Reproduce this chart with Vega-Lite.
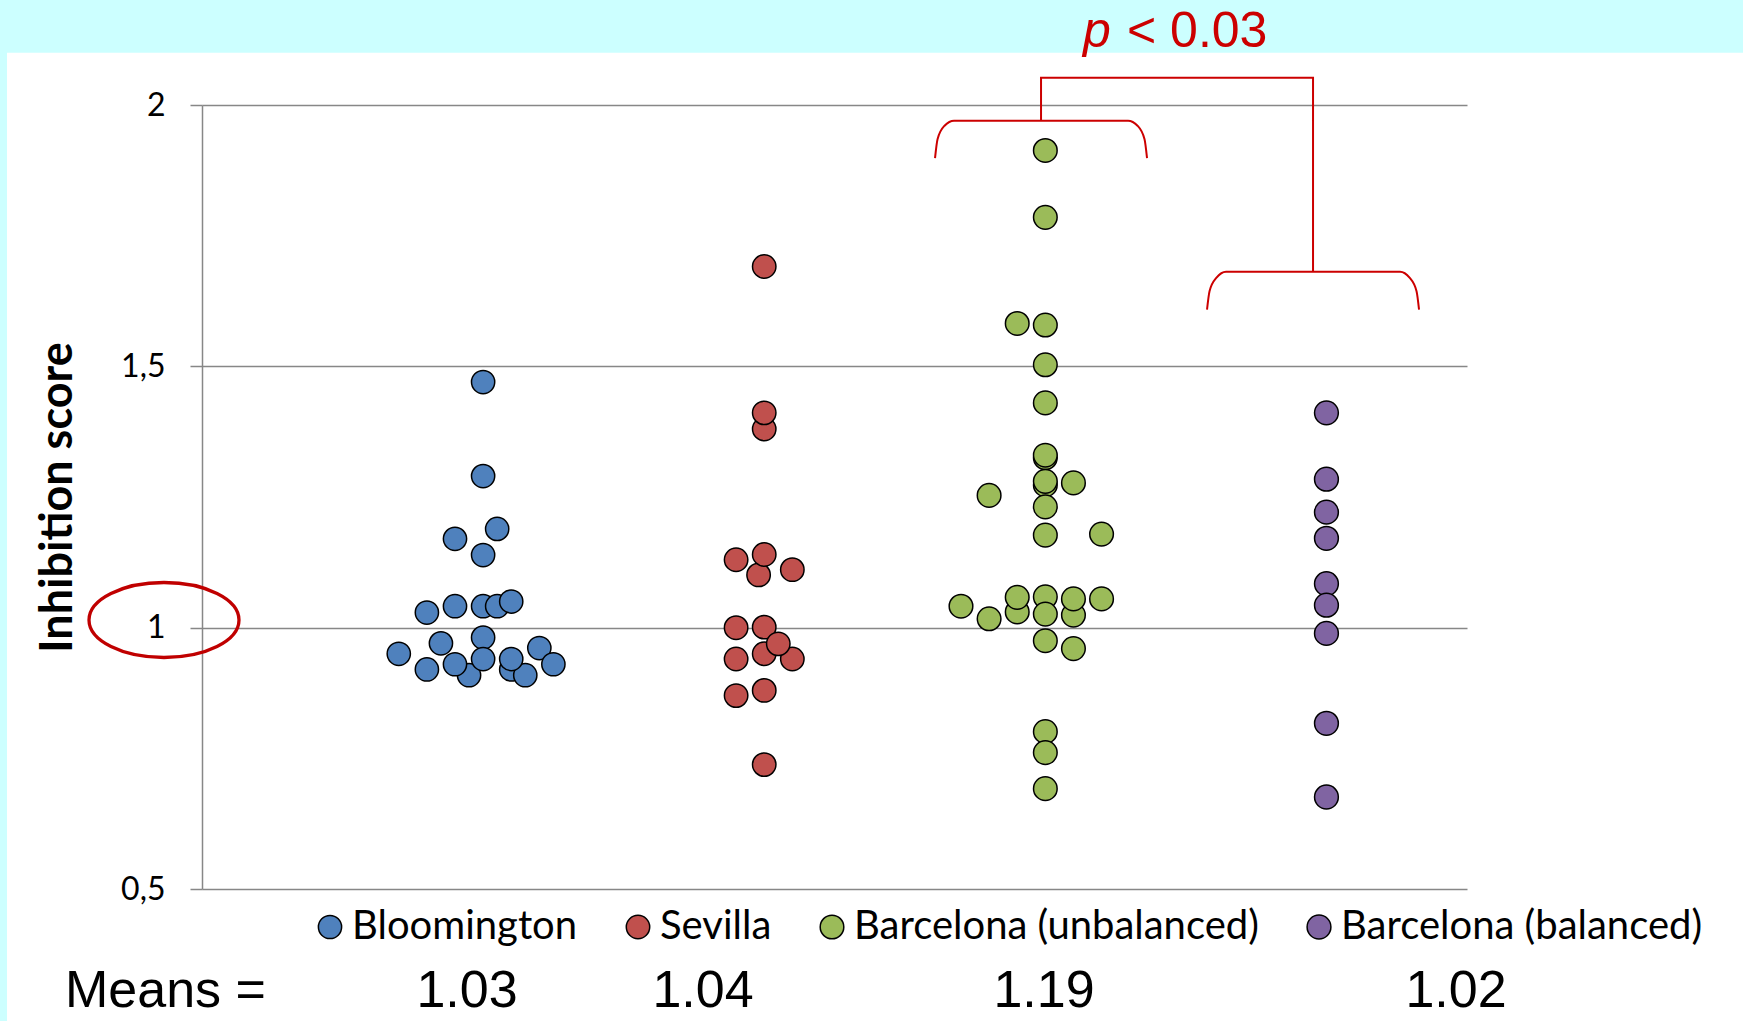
{
  "$schema": "https://vega.github.io/schema/vega-lite/v6.json",
  "width": 1265,
  "height": 784,
  "autosize": {"type": "none"},
  "padding": {"left": 202, "top": 105, "right": 276, "bottom": 132},
  "background": "white",
  "config": {"view": {"stroke": null}, "font": "Lato"},
  "datasets": {
    "points": [
      {"group": "Bloomington", "x": 1.00, "score": 1.470},
      {"group": "Bloomington", "x": 1.00, "score": 1.290},
      {"group": "Bloomington", "x": 0.90, "score": 1.170},
      {"group": "Bloomington", "x": 1.05, "score": 1.189},
      {"group": "Bloomington", "x": 1.00, "score": 1.139},
      {"group": "Bloomington", "x": 0.80, "score": 1.029},
      {"group": "Bloomington", "x": 0.90, "score": 1.041},
      {"group": "Bloomington", "x": 1.00, "score": 1.041},
      {"group": "Bloomington", "x": 1.05, "score": 1.041},
      {"group": "Bloomington", "x": 1.10, "score": 1.050},
      {"group": "Bloomington", "x": 1.00, "score": 0.981},
      {"group": "Bloomington", "x": 0.85, "score": 0.970},
      {"group": "Bloomington", "x": 0.70, "score": 0.950},
      {"group": "Bloomington", "x": 1.20, "score": 0.961},
      {"group": "Bloomington", "x": 0.80, "score": 0.920},
      {"group": "Bloomington", "x": 0.95, "score": 0.909},
      {"group": "Bloomington", "x": 0.90, "score": 0.930},
      {"group": "Bloomington", "x": 1.00, "score": 0.940},
      {"group": "Bloomington", "x": 1.10, "score": 0.920},
      {"group": "Bloomington", "x": 1.15, "score": 0.909},
      {"group": "Bloomington", "x": 1.10, "score": 0.940},
      {"group": "Bloomington", "x": 1.25, "score": 0.930},
      {"group": "Sevilla", "x": 2.00, "score": 1.691},
      {"group": "Sevilla", "x": 2.00, "score": 1.380},
      {"group": "Sevilla", "x": 2.00, "score": 1.411},
      {"group": "Sevilla", "x": 1.90, "score": 1.130},
      {"group": "Sevilla", "x": 1.98, "score": 1.101},
      {"group": "Sevilla", "x": 2.00, "score": 1.140},
      {"group": "Sevilla", "x": 2.10, "score": 1.111},
      {"group": "Sevilla", "x": 1.90, "score": 0.940},
      {"group": "Sevilla", "x": 2.00, "score": 0.950},
      {"group": "Sevilla", "x": 2.10, "score": 0.940},
      {"group": "Sevilla", "x": 1.90, "score": 1.000},
      {"group": "Sevilla", "x": 2.00, "score": 1.001},
      {"group": "Sevilla", "x": 2.05, "score": 0.969},
      {"group": "Sevilla", "x": 1.90, "score": 0.870},
      {"group": "Sevilla", "x": 2.00, "score": 0.880},
      {"group": "Sevilla", "x": 2.00, "score": 0.738},
      {"group": "Barcelona (unbalanced)", "x": 3.00, "score": 1.913},
      {"group": "Barcelona (unbalanced)", "x": 3.00, "score": 1.785},
      {"group": "Barcelona (unbalanced)", "x": 2.90, "score": 1.582},
      {"group": "Barcelona (unbalanced)", "x": 3.00, "score": 1.579},
      {"group": "Barcelona (unbalanced)", "x": 3.00, "score": 1.503},
      {"group": "Barcelona (unbalanced)", "x": 3.00, "score": 1.430},
      {"group": "Barcelona (unbalanced)", "x": 3.00, "score": 1.325},
      {"group": "Barcelona (unbalanced)", "x": 3.00, "score": 1.330},
      {"group": "Barcelona (unbalanced)", "x": 3.00, "score": 1.273},
      {"group": "Barcelona (unbalanced)", "x": 3.00, "score": 1.280},
      {"group": "Barcelona (unbalanced)", "x": 3.10, "score": 1.277},
      {"group": "Barcelona (unbalanced)", "x": 2.80, "score": 1.253},
      {"group": "Barcelona (unbalanced)", "x": 3.00, "score": 1.231},
      {"group": "Barcelona (unbalanced)", "x": 3.00, "score": 1.177},
      {"group": "Barcelona (unbalanced)", "x": 3.20, "score": 1.179},
      {"group": "Barcelona (unbalanced)", "x": 2.70, "score": 1.041},
      {"group": "Barcelona (unbalanced)", "x": 2.80, "score": 1.017},
      {"group": "Barcelona (unbalanced)", "x": 2.90, "score": 1.030},
      {"group": "Barcelona (unbalanced)", "x": 2.90, "score": 1.058},
      {"group": "Barcelona (unbalanced)", "x": 3.00, "score": 1.059},
      {"group": "Barcelona (unbalanced)", "x": 3.00, "score": 1.026},
      {"group": "Barcelona (unbalanced)", "x": 3.10, "score": 1.024},
      {"group": "Barcelona (unbalanced)", "x": 3.10, "score": 1.055},
      {"group": "Barcelona (unbalanced)", "x": 3.20, "score": 1.055},
      {"group": "Barcelona (unbalanced)", "x": 3.00, "score": 0.975},
      {"group": "Barcelona (unbalanced)", "x": 3.10, "score": 0.960},
      {"group": "Barcelona (unbalanced)", "x": 3.00, "score": 0.801},
      {"group": "Barcelona (unbalanced)", "x": 3.00, "score": 0.761},
      {"group": "Barcelona (unbalanced)", "x": 3.00, "score": 0.692},
      {"group": "Barcelona (balanced)", "x": 4.00, "score": 1.411},
      {"group": "Barcelona (balanced)", "x": 4.00, "score": 1.284},
      {"group": "Barcelona (balanced)", "x": 4.00, "score": 1.221},
      {"group": "Barcelona (balanced)", "x": 4.00, "score": 1.171},
      {"group": "Barcelona (balanced)", "x": 4.00, "score": 1.084},
      {"group": "Barcelona (balanced)", "x": 4.00, "score": 1.043},
      {"group": "Barcelona (balanced)", "x": 4.00, "score": 0.989},
      {"group": "Barcelona (balanced)", "x": 4.00, "score": 0.817},
      {"group": "Barcelona (balanced)", "x": 4.00, "score": 0.676}
    ],
    "bands": [
      {"x": -0.7186, "x2": 5.482, "y": 2.201, "y2": 2.1001},
      {"x": -0.7186, "x2": -0.6937, "y": 2.201, "y2": 0.2475}
    ],
    "connector": [
      {"i": 1, "x": 2.9847, "y": 1.970},
      {"i": 2, "x": 2.9847, "y": 2.0523},
      {"i": 3, "x": 3.9523, "y": 2.0523},
      {"i": 4, "x": 3.9523, "y": 1.6806}
    ],
    "braces": [
      {"id": "left", "x": 2.6076, "y": 1.8982},
      {"id": "left", "x": 2.6165, "y": 1.9346},
      {"id": "left", "x": 2.6414, "y": 1.9604},
      {"id": "left", "x": 2.6752, "y": 1.9700},
      {"id": "left", "x": 3.2942, "y": 1.9700},
      {"id": "left", "x": 3.3280, "y": 1.9604},
      {"id": "left", "x": 3.3529, "y": 1.9346},
      {"id": "left", "x": 3.3618, "y": 1.8982},
      {"id": "right", "x": 3.5752, "y": 1.6084},
      {"id": "right", "x": 3.5841, "y": 1.6438},
      {"id": "right", "x": 3.6090, "y": 1.6697},
      {"id": "right", "x": 3.6428, "y": 1.6811},
      {"id": "right", "x": 4.2618, "y": 1.6811},
      {"id": "right", "x": 4.2956, "y": 1.6697},
      {"id": "right", "x": 4.3205, "y": 1.6438},
      {"id": "right", "x": 4.3294, "y": 1.6084}
    ],
    "means": [
      {"label": "1.03", "x": 0.9427, "y": 0.2743},
      {"label": "1.04", "x": 1.7823, "y": 0.2743},
      {"label": "1.19", "x": 2.9954, "y": 0.2743},
      {"label": "1.02", "x": 4.461, "y": 0.2743}
    ]
  },
  "encoding": {
    "x": {"field": "x", "type": "quantitative", "scale": {"domain": [0, 4.5], "nice": false, "zero": false}, "axis": null},
    "y": {
      "field": "y", "type": "quantitative",
      "scale": {"domain": [0.5, 2], "nice": false, "zero": false},
      "axis": {
        "values": [0.5, 1, 1.5, 2], "format": ".1~f", "labelExpr": "replace(datum.label, '.', ',')",
        "title": "Inhibition score", "grid": true, "gridColor": "#878787", "gridWidth": 1.5,
        "domainColor": "#878787", "domainWidth": 1.5, "tickColor": "#878787", "tickWidth": 1.5, "tickSize": 12,
        "labelFont": "Lato", "labelFontSize": 32, "labelColor": "#000000", "labelPadding": 25,
        "titleFont": "Lato", "titleFontSize": 45, "titleFontWeight": "bold", "titleColor": "#000000",
        "titleAngle": -90, "titleX": -145, "titleY": 392, "titleAlign": "center", "titleBaseline": "middle"
      }
    }
  },
  "layer": [
    {
      "data": {"name": "points"},
      "mark": {"type": "point", "filled": true, "shape": "circle", "stroke": "black", "strokeWidth": 1.5, "opacity": 1},
      "encoding": {
        "y": {
          "field": "score", "type": "quantitative",
          "scale": {"domain": [0.5, 2], "nice": false, "zero": false},
          "axis": {
            "values": [0.5, 1, 1.5, 2], "format": ".1~f", "labelExpr": "replace(datum.label, '.', ',')",
            "title": "Inhibition score", "grid": true, "gridColor": "#878787", "gridWidth": 1.5,
            "domainColor": "#878787", "domainWidth": 1.5, "tickColor": "#878787", "tickWidth": 1.5, "tickSize": 12,
            "labelFont": "Lato", "labelFontSize": 32, "labelColor": "#000000", "labelPadding": 25,
            "titleFont": "Lato", "titleFontSize": 45, "titleFontWeight": "bold", "titleColor": "#000000",
            "titleAngle": -90, "titleX": -145, "titleY": 392, "titleAlign": "center", "titleBaseline": "middle"
          }
        },
        "color": {
          "field": "group", "type": "nominal",
          "scale": {"domain": ["Bloomington", "Sevilla", "Barcelona (unbalanced)", "Barcelona (balanced)"], "range": ["#4F81BD", "#C0504D", "#9BBB59", "#8064A2"]},
          "legend": {
            "title": null, "orient": "none", "legendX": 108, "legendY": 802, "direction": "horizontal",
            "columns": 4, "columnPadding": 40, "labelOffset": 2, "symbolType": "circle", "symbolSize": 420,
            "symbolStrokeColor": "black", "symbolStrokeWidth": 1.5, "symbolOpacity": 1,
            "labelFont": "Lato", "labelFontSize": 40, "labelColor": "#000000", "labelLimit": 1000
          }
        },
        "size": {
          "field": "group", "type": "nominal",
          "scale": {"domain": ["Bloomington", "Sevilla", "Barcelona (unbalanced)", "Barcelona (balanced)"], "range": [540, 566, 420, 420]},
          "legend": null
        }
      }
    },
    {
      "data": {"name": "bands"},
      "mark": {"type": "rect", "color": "#CCFFFF"},
      "encoding": {
        "x2": {"field": "x2"},
        "y2": {"field": "y2"}
      }
    },
    {
      "data": {"name": "connector"},
      "mark": {"type": "line", "color": "#CC0000", "strokeWidth": 2},
      "encoding": {
        "order": {"field": "i", "type": "quantitative"}
      }
    },
    {
      "data": {"name": "braces"},
      "mark": {"type": "line", "color": "#CC0000", "strokeWidth": 2, "interpolate": "monotone"},
      "encoding": {
        "detail": {"field": "id", "type": "nominal"}
      }
    },
    {
      "data": {"values": [{"x": -0.1352, "y": 1.0147}]},
      "mark": {"type": "point", "filled": false, "stroke": "#C00000", "strokeWidth": 3.3, "opacity": 1, "size": 22500, "shape": "M -1 0 A 1 0.5 0 1 1 1 0 A 1 0.5 0 1 1 -1 0 Z"},
      "encoding": {}
    },
    {
      "data": {"values": [{"label": "p", "x": 3.134, "y": 2.1110}]},
      "mark": {"type": "text", "font": "Liberation Sans", "fontSize": 50, "fontStyle": "italic", "color": "#CC0000", "align": "left", "baseline": "alphabetic"},
      "encoding": {"text": {"field": "label"}}
    },
    {
      "data": {"values": [{"label": "< 0.03", "x": 3.2906, "y": 2.1110}]},
      "mark": {"type": "text", "font": "Liberation Sans", "fontSize": 50, "color": "#CC0000", "align": "left", "baseline": "alphabetic"},
      "encoding": {"text": {"field": "label"}}
    },
    {
      "data": {"values": [{"label": "Means =", "x": -0.4874, "y": 0.2743}]},
      "mark": {"type": "text", "font": "Liberation Sans", "fontSize": 52, "color": "#000000", "align": "left", "baseline": "alphabetic"},
      "encoding": {"text": {"field": "label"}}
    },
    {
      "data": {"name": "means"},
      "mark": {"type": "text", "font": "Liberation Sans", "fontSize": 52, "color": "#000000", "align": "center", "baseline": "alphabetic"},
      "encoding": {"text": {"field": "label"}}
    }
  ]
}
